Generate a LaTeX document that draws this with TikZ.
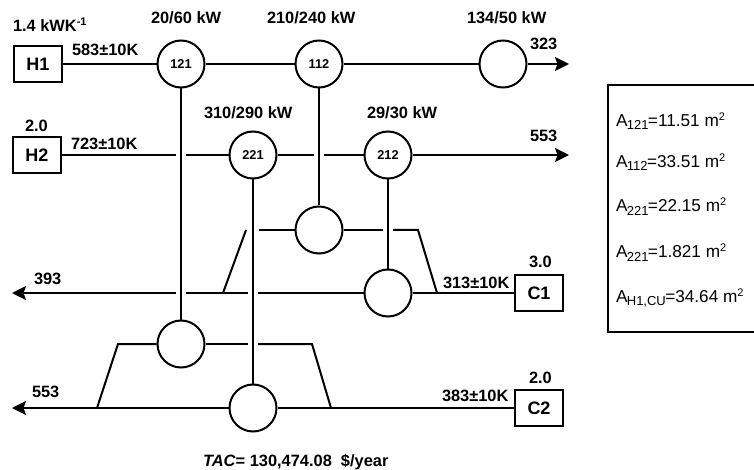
\documentclass[tikz,border=0pt]{standalone}
\usepackage{fontspec}
\setmainfont{Liberation Sans}
\usetikzlibrary{arrows.meta}
\tikzset{
  hx/.style={circle,draw,fill=white,minimum size=47pt,inner sep=0pt,font=\fontsize{12.8}{14}\selectfont\bfseries},
  streambox/.style={rectangle,draw,fill=white,minimum width=48pt,minimum height=36pt,inner sep=0pt,font=\fontsize{18}{20}\selectfont\bfseries},
  lab/.style={anchor=base west,inner sep=0pt,outer sep=0pt,font=\fontsize{16.4}{18}\selectfont\bfseries},
  area/.style={anchor=base west,inner sep=0pt,outer sep=0pt,font=\fontsize{17.2}{18}\selectfont},
  flow/.style={-{Stealth[length=14pt,width=14pt,inset=2.5pt]}},
  plain/.style={line cap=butt,line join=miter}
}
\newcommand{\subt}[1]{\raisebox{-3pt}{\fontsize{13}{14}\selectfont\kern-0.6pt #1\kern-0.6pt}}
\newcommand{\supt}[1]{\raisebox{6pt}{\fontsize{11}{12}\selectfont #1}}
\begin{document}
\begin{tikzpicture}[x=1pt,y=-1pt,line width=2pt]
\useasboundingbox (0,0) rectangle (754,470);
% boxes
\node[streambox] (H1) at (38,64) {H1};
\node[streambox] (H2) at (37,155) {H2};
\node[streambox] (C1) at (539,293) {C1};
\node[streambox] (C2) at (539,408) {C2};
% exchangers
\node[hx] (n121) at (181,64) {121};
\node[hx] (n112) at (319,64) {112};
\node[hx] (nH1) at (503,64) {};
\node[hx] (n221) at (253,155) {221};
\node[hx] (n212) at (388,155) {212};
\node[hx] (s112) at (319,230) {};
\node[hx] (s212) at (388,293) {};
\node[hx] (s121) at (181,344) {};
\node[hx] (s221) at (253,408) {};
% free ends
\coordinate (e1) at (569,64);
\coordinate (e2) at (569,155);
\coordinate (e3) at (12,293);
\coordinate (e4) at (12,408);
\coordinate (a1) at (176,155);\coordinate (a2) at (186,155);
\coordinate (a3) at (314,155);\coordinate (a4) at (324,155);
\coordinate (b1) at (176,293);\coordinate (b2) at (186,293);
\coordinate (b3) at (248,293);\coordinate (b4) at (258,293);
\coordinate (c1) at (259,230);\coordinate (c0) at (246,230);
\coordinate (c2) at (383,230);\coordinate (c3) at (393,230);\coordinate (c4) at (418,230);
\coordinate (d1) at (223,293);\coordinate (d2) at (437,293);
\coordinate (f0) at (118,344);\coordinate (f1) at (248,344);\coordinate (f2) at (258,344);\coordinate (f3) at (312,344);
\coordinate (g1) at (97,408);\coordinate (g2) at (331,408);
% hot streams
\draw (H1) -- (n121);
\draw (n121) -- (n112);
\draw (n112) -- (nH1);
\draw[flow] (nH1) -- (e1);
\draw (H2) -- (a1);
\draw (a2) -- (n221);
\draw (n221) -- (a3);
\draw (a4) -- (n212);
\draw[flow] (n212) -- (e2);
% cold stream 1
\draw (C1) -- (s212);
\draw (s212) -- (b4);
\draw (b3) -- (b2);
\draw[flow] (b1) -- (e3);
\draw[plain] (d1) -- (c0);
\draw (c1) -- (s112);
\draw (s112) -- (c2);
\draw[plain] (c3) -- (c4) -- (d2);
% cold stream 2
\draw (C2) -- (s221);
\draw[flow] (s221) -- (e4);
\draw[plain] (g1) -- (f0) -- (s121);
\draw (s121) -- (f1);
\draw[plain] (f2) -- (f3) -- (g2);
% matches
\draw (n121) -- (s121);
\draw (n112) -- (s112);
\draw (n221) -- (s221);
\draw (n212) -- (s212);
% labels
\node[lab] (t1) at (13,32) {1.4 kWK\supt{-1}};
\node[lab] (t2) at (151,24) {20/60 kW};
\node[lab] (t3) at (267,24) {210/240 kW};
\node[lab] (t4) at (467,24) {134/50 kW};
\node[lab] (t5) at (72,56) {583±10K};
\node[lab] (t6) at (71,150) {723±10K};
\node[lab] (t7) at (25,132) {2.0};
\node[lab] (t8) at (204,119) {310/290 kW};
\node[lab] (t9) at (367,119) {29/30 kW};
\node[lab] (t10) at (530,50) {323};
\node[lab] (t11) at (530,142) {553};
\node[lab] (t12) at (34,284) {393};
\node[lab] (t13) at (32,397) {553};
\node[lab] (t14) at (443,288) {313±10K};
\node[lab] (t15) at (442,401) {383±10K};
\node[lab] (t16) at (529,267) {3.0};
\node[lab] (t17) at (529,383) {2.0};
\node[lab] (t18) at (203,466) {\textit{TAC}= 130,474.08\ \ \$/year};
% area panel
\coordinate (p1) at (755,85);\coordinate (p2) at (608,85);\coordinate (p3) at (608,332);\coordinate (p4) at (755,332);
\draw[plain] (p1) -- (p2) -- (p3) -- (p4);
\node[area] (r1) at (616,127) {A\subt{121}=11.51 m\supt{2}};
\node[area] (r2) at (616,168) {A\subt{112}=33.51 m\supt{2}};
\node[area] (r3) at (616,212) {A\subt{221}=22.15 m\supt{2}};
\node[area] (r4) at (616,258) {A\subt{221}=1.821 m\supt{2}};
\node[area] (r5) at (616,302) {A\subt{H1,CU}=34.64 m\supt{2}};
\end{tikzpicture}
\end{document}
